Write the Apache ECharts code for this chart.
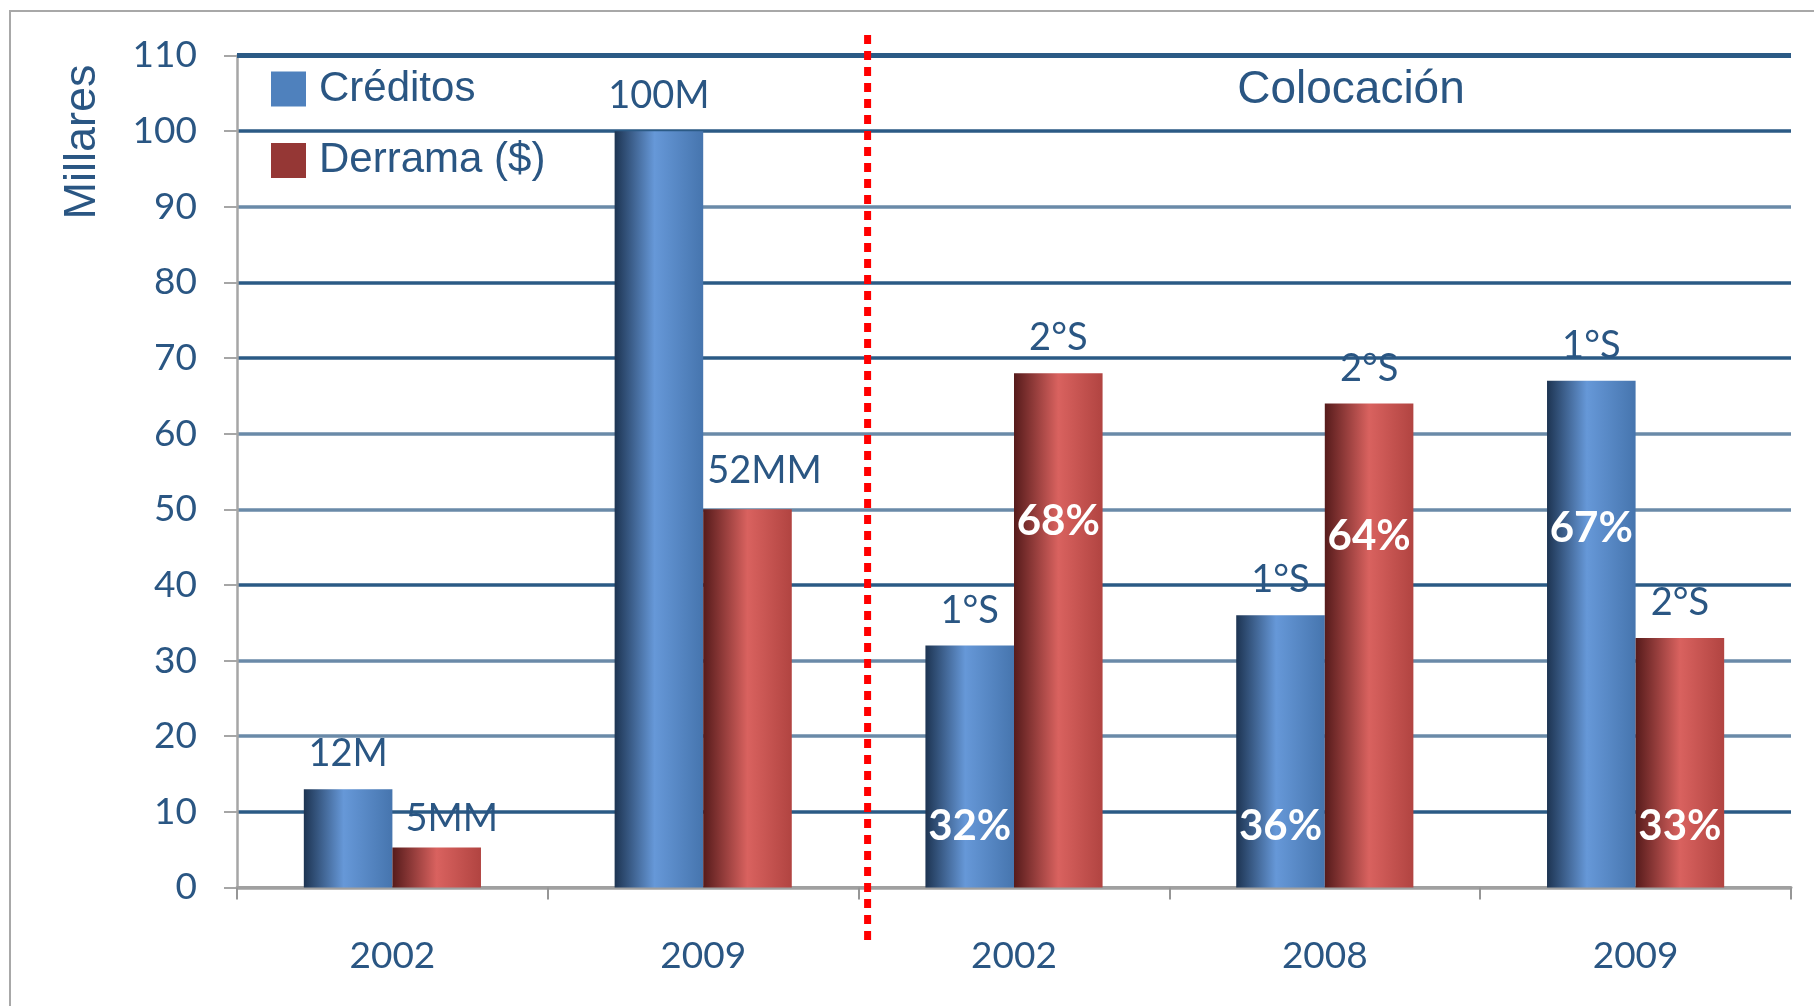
<!DOCTYPE html>
<html><head><meta charset="utf-8">
<script src="https://cdn.jsdelivr.net/npm/echarts@6/dist/echarts.min.js"></script>
<style>html,body{margin:0;padding:0;background:#fff}#c{width:1814px;height:1006px}</style>
</head><body><div id="c"></div>
<script>
// ---- data ----
const categories = ['2002', '2009', '2002', '2008', '2009'];
const creditos = [13, 100, 32, 36, 67];
const derrama = [5.3, 50, 68, 64, 33];
const creditosTop = ['12M', '100M', '1°S', '1°S', '1°S'];
const derramaTop = ['5MM', '52MM', '2°S', '2°S', '2°S'];
const creditosPct = ['', '', '32%', '36%', '67%'];
const derramaPct = ['', '', '68%', '64%', '33%'];
const yMin = 0, yMax = 110, yStep = 10;

// ---- styles ----
const TXT = '#2a5683';
const DARK = '#2b5a85', LIGHT = '#6a8aa8';
const gridColors = ['#a0a0a0', DARK, LIGHT, LIGHT, DARK, LIGHT, LIGHT, DARK, DARK, LIGHT, DARK, DARK];
const blueGrad = new echarts.graphic.LinearGradient(0, 0, 1, 0, [
  {offset: 0, color: '#1d3452'}, {offset: 0.45, color: '#6698d8'}, {offset: 1, color: '#4675ae'}]);
const redGrad = new echarts.graphic.LinearGradient(0, 0, 1, 0, [
  {offset: 0, color: '#561b1b'}, {offset: 0.5, color: '#d9625f'}, {offset: 1, color: '#b14441'}]);
// placement of percent labels inside bars (style, not data)
const pctPlace = {
  creditos: [null, null, {position: 'insideBottom', distance: 40}, {position: 'insideBottom', distance: 40}, {position: 'insideTop', distance: 127}],
  derrama:  [null, null, {position: 'insideTop', distance: 127}, {position: 'insideTop', distance: 112}, {position: 'insideBottom', distance: 40}]
};
const topLabelStyle = {show: true, position: 'top', distance: 16, color: TXT, fontFamily: 'Lato', fontSize: 38};
const pctLabelStyle = {show: true, color: '#ffffff', fontFamily: 'Lato', fontWeight: 'bold', fontSize: 42};

function topData(vals, labels, extra) {
  return vals.map((v, i) => ({value: v, label: Object.assign({formatter: labels[i]}, (extra && extra[i]) || {})}));
}
function pctData(vals, labels, place) {
  return vals.map((v, i) => ({value: v, label: place[i] ? Object.assign({formatter: labels[i]}, place[i]) : {show: false}}));
}

const chart = echarts.init(document.getElementById('c'), null, {renderer: 'canvas'});
const gridDef = {left: 237, right: 23, top: 55.5, bottom: 118.5};
const option = {
  animation: false,
  backgroundColor: '#ffffff',
  grid: gridDef,
  legend: {
    orient: 'vertical', left: 271, top: 68, padding: 0,
    itemWidth: 35, itemHeight: 35, itemGap: 29.5,
    icon: 'rect',
    textStyle: {color: TXT, fontFamily: 'Liberation Sans', fontSize: 42, lineHeight: 35, padding: [0, 0, 0, 8]},
    data: [
      {name: 'Créditos', itemStyle: {color: '#4f81bd'}},
      {name: 'Derrama ($)', itemStyle: {color: '#953735'}}
    ]
  },
  xAxis: [{
    type: 'category', data: categories,
    axisLine: {show: true, lineStyle: {color: '#a0a0a0', width: 3}},
    axisTick: {show: true, length: 12, lineStyle: {color: '#969696', width: 2}},
    axisLabel: {color: TXT, fontFamily: 'Lato', fontSize: 37, margin: 50}
  }, {
    type: 'category', data: categories, show: false
  }],
  yAxis: {
    type: 'value', min: yMin, max: yMax, interval: yStep,
    axisLine: {show: true, lineStyle: {color: '#a6a6a6', width: 2.5}},
    axisTick: {show: true, length: 13, lineStyle: {color: '#a6a6a6', width: 2}},
    axisLabel: {color: TXT, fontFamily: 'Lato', fontSize: 37, margin: 40},
    splitLine: {show: true, lineStyle: {color: gridColors, width: 3.5}}
  },
  series: [
    {
      name: 'Créditos', type: 'bar', xAxisIndex: 0,
      barCategoryGap: '43%', barGap: '0%',
      itemStyle: {color: blueGrad},
      label: topLabelStyle,
      data: topData(creditos, creditosTop),
      markLine: {silent: true, symbol: 'none', label: {show: false},
        lineStyle: {color: DARK, width: 5, type: 'solid'}, data: [{yAxis: yMax}]}
    },
    {
      name: 'Derrama ($)', type: 'bar', xAxisIndex: 0,
      barCategoryGap: '43%', barGap: '0%',
      itemStyle: {color: redGrad},
      label: topLabelStyle,
      data: topData(derrama, derramaTop, [{offset: [15, 0], distance: 10}, {offset: [17, 0], distance: 20}])
    },
    {
      name: 'pctC', type: 'bar', xAxisIndex: 1, silent: true,
      barCategoryGap: '43%', barGap: '0%',
      itemStyle: {color: 'rgba(0,0,0,0)'},
      label: pctLabelStyle,
      data: pctData(creditos, creditosPct, pctPlace.creditos)
    },
    {
      name: 'pctD', type: 'bar', xAxisIndex: 1, silent: true,
      barCategoryGap: '43%', barGap: '0%',
      itemStyle: {color: 'rgba(0,0,0,0)'},
      label: pctLabelStyle,
      data: pctData(derrama, derramaPct, pctPlace.derrama)
    }
  ]
};
chart.setOption(option);

// decorations: frame, titles, separator
const c1 = chart.convertToPixel({xAxisIndex: 0}, 1);
const c2 = chart.convertToPixel({xAxisIndex: 0}, 2);
const sepX = (c1 + c2) / 2 + 9;
chart.setOption({
  graphic: [
    {type: 'rect', silent: true, z: -1, shape: {x: 10, y: 11, width: 2000, height: 1200},
      style: {fill: 'none', stroke: '#a8a8a8', lineWidth: 2}},
    {type: 'text', x: 83, y: 142, rotation: Math.PI / 2,
      style: {text: 'Millares', fill: TXT, fontFamily: 'Liberation Sans', fontSize: 45, textAlign: 'center', textVerticalAlign: 'middle'}},
    {type: 'text', x: 1351, y: 90,
      style: {text: 'Colocación', fill: TXT, fontFamily: 'Liberation Sans', fontSize: 46, textAlign: 'center', textVerticalAlign: 'middle'}},
    {type: 'line', z: 100, shape: {x1: sepX, y1: 35, x2: sepX, y2: 940},
      style: {stroke: '#ff0000', lineWidth: 7, lineDash: [9, 7]}}
  ]
});
</script>
</body></html>
